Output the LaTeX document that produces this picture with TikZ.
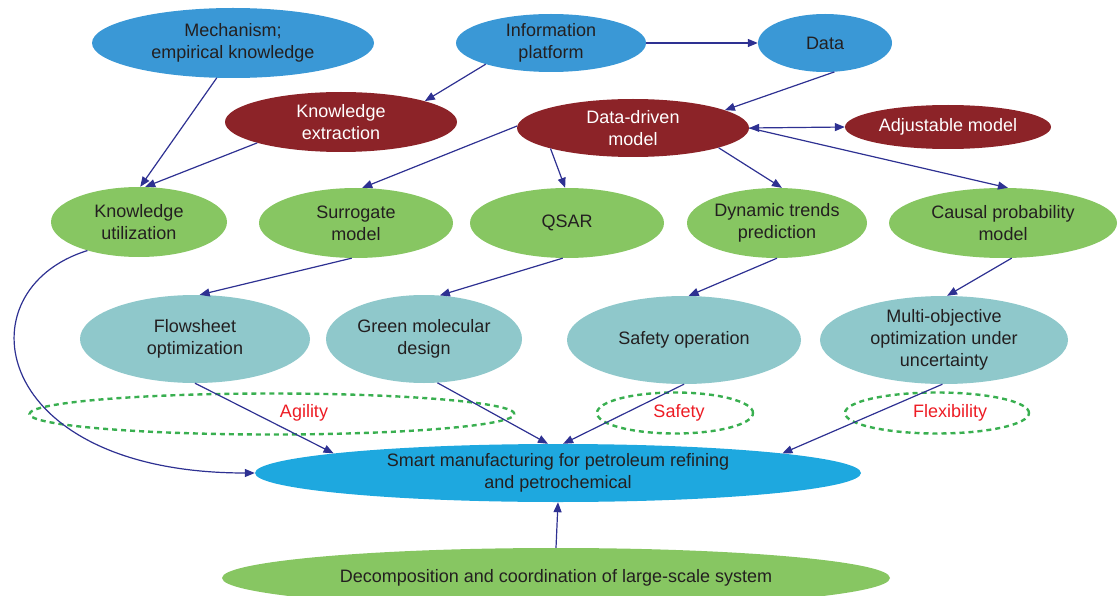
\documentclass[tikz,border=0pt]{standalone}
\usepackage{fontspec}
\setmainfont{Liberation Sans}
\usetikzlibrary{shapes.geometric,arrows.meta}
\definecolor{topblue}{RGB}{58,152,214}
\definecolor{dred}{RGB}{140,35,40}
\definecolor{lgreen}{RGB}{135,198,98}
\definecolor{teal2}{RGB}{143,200,203}
\definecolor{smartblue}{RGB}{30,168,223}
\definecolor{arrowc}{RGB}{46,49,146}
\definecolor{dashg}{RGB}{57,175,80}
\definecolor{redtxt}{RGB}{237,28,36}
\definecolor{darktxt}{RGB}{35,31,32}
\tikzset{
  base/.style={ellipse, inner sep=0pt, align=center, font=\fontsize{18}{22}\selectfont, text=darktxt},
  bnode/.style={base, fill=topblue},
  rnode/.style={base, fill=dred, text=white},
  gnode/.style={base, fill=lgreen},
  tnode/.style={base, fill=teal2},
  dashell/.style={ellipse, draw=dashg, line width=2.4pt, dash pattern=on 5pt off 4pt, inner sep=0pt},
  lbl/.style={font=\fontsize{18}{22}\selectfont, text=redtxt},
  arr/.style={draw=arrowc, line width=1.2pt, -{Triangle[length=10pt,width=8pt]}},
  darr/.style={draw=arrowc, line width=1.2pt, {Triangle[length=10pt,width=8pt]}-{Triangle[length=10pt,width=8pt]}},
}
\begin{document}
\begin{tikzpicture}[x=1pt,y=-1pt]
\useasboundingbox (0,0) rectangle (1118,596);
% top row
\node[bnode, minimum width=282pt, minimum height=70pt] (mech) at (233,43) {Mechanism;\\empirical knowledge};
\node[bnode, minimum width=190pt, minimum height=58pt] (ip) at (551,43) {Information\\platform};
\node[bnode, minimum width=134pt, minimum height=58pt] (data) at (825,43) {Data};
% red row
\node[rnode, minimum width=232pt, minimum height=60pt] (ke) at (341,122) {Knowledge\\extraction};
\node[rnode, minimum width=232pt, minimum height=58pt] (dd) at (633,128) {Data-driven\\model};
\node[rnode, minimum width=206pt, minimum height=44pt] (adj) at (948,127) {Adjustable model};
% green row
\node[gnode, minimum width=176pt, minimum height=70pt] (ku) at (139,222) {Knowledge\\utilization};
\node[gnode, minimum width=194pt, minimum height=70pt] (sur) at (356,223) {Surrogate\\model};
\node[gnode, minimum width=194pt, minimum height=70pt] (qsar) at (567,223) {QSAR};
\node[gnode, minimum width=180pt, minimum height=70pt] (dyn) at (777,223) {Dynamic trends\\prediction};
\node[gnode, minimum width=228pt, minimum height=70pt] (cau) at (1003,223) {Causal probability\\model};
% teal row
\node[tnode, minimum width=230pt, minimum height=88pt] (flow) at (195,339) {Flowsheet\\optimization};
\node[tnode, minimum width=196pt, minimum height=88pt] (green) at (424,339) {Green molecular\\design};
\node[tnode, minimum width=234pt, minimum height=88pt] (safe) at (684,340) {Safety operation};
\node[tnode, minimum width=248pt, minimum height=88pt] (multi) at (944,340) {Multi-objective\\optimization under\\uncertainty};
% dashed ellipses
\node[dashell, minimum width=485pt, minimum height=41pt] (agE) at (272,414) {};
\node[dashell, minimum width=156pt, minimum height=41pt] (saE) at (675,413) {};
\node[dashell, minimum width=184pt, minimum height=41pt] (flE) at (937,413) {};
\node[lbl] (agL) at (304,413) {Agility};
\node[lbl] (saL) at (679,413) {Safety};
\node[lbl] (flL) at (950,413) {Flexibility};
% bottom
\node[base, fill=smartblue, minimum width=606pt, minimum height=58pt] (smart) at (558,473) {Smart manufacturing for petroleum refining\\and petrochemical};
\node[gnode, minimum width=668pt, minimum height=60pt] (dec) at (556,578) {Decomposition and coordination of large-scale system};
% connectors
\draw[arr] (mech.245) -- (ku.88);
\draw[arr] (ke.194) -- (ku.80);
\draw[arr] (ip.198) -- (ke.14);
\draw[arr] (ip.east) -- (data.west);
\draw[arr] (data.-72) -- (dd.11);
\draw[arr] (dd.179) -- (sur.80);
\draw[arr] (dd.194) -- (qsar.93);
\draw[arr] (dd.-13) -- (dyn.82);
\draw[darr] (dd.east) -- (adj.west);
\draw[arr] (dd.east) -- (cau.82);
\draw[arr] (sur.263) -- (flow.84);
\draw[arr] (qsar.263) -- (green.70);
\draw[arr] (dyn.south) -- (safe.84);
\draw[arr] (cau.-76) -- (multi.86);
\draw[arr] (flow.south) -- (smart.175);
\draw[arr] (green.-73) -- (smart.109);
\draw[arr] (safe.south) -- (smart.80);
\draw[arr] (multi.268) -- (smart.5.5);
\draw[arr] (dec.north) -- (smart.south);
\draw[arr] (ku.209) .. controls (-40,290) and (-10,473) .. (smart.west);
\end{tikzpicture}
\end{document}
